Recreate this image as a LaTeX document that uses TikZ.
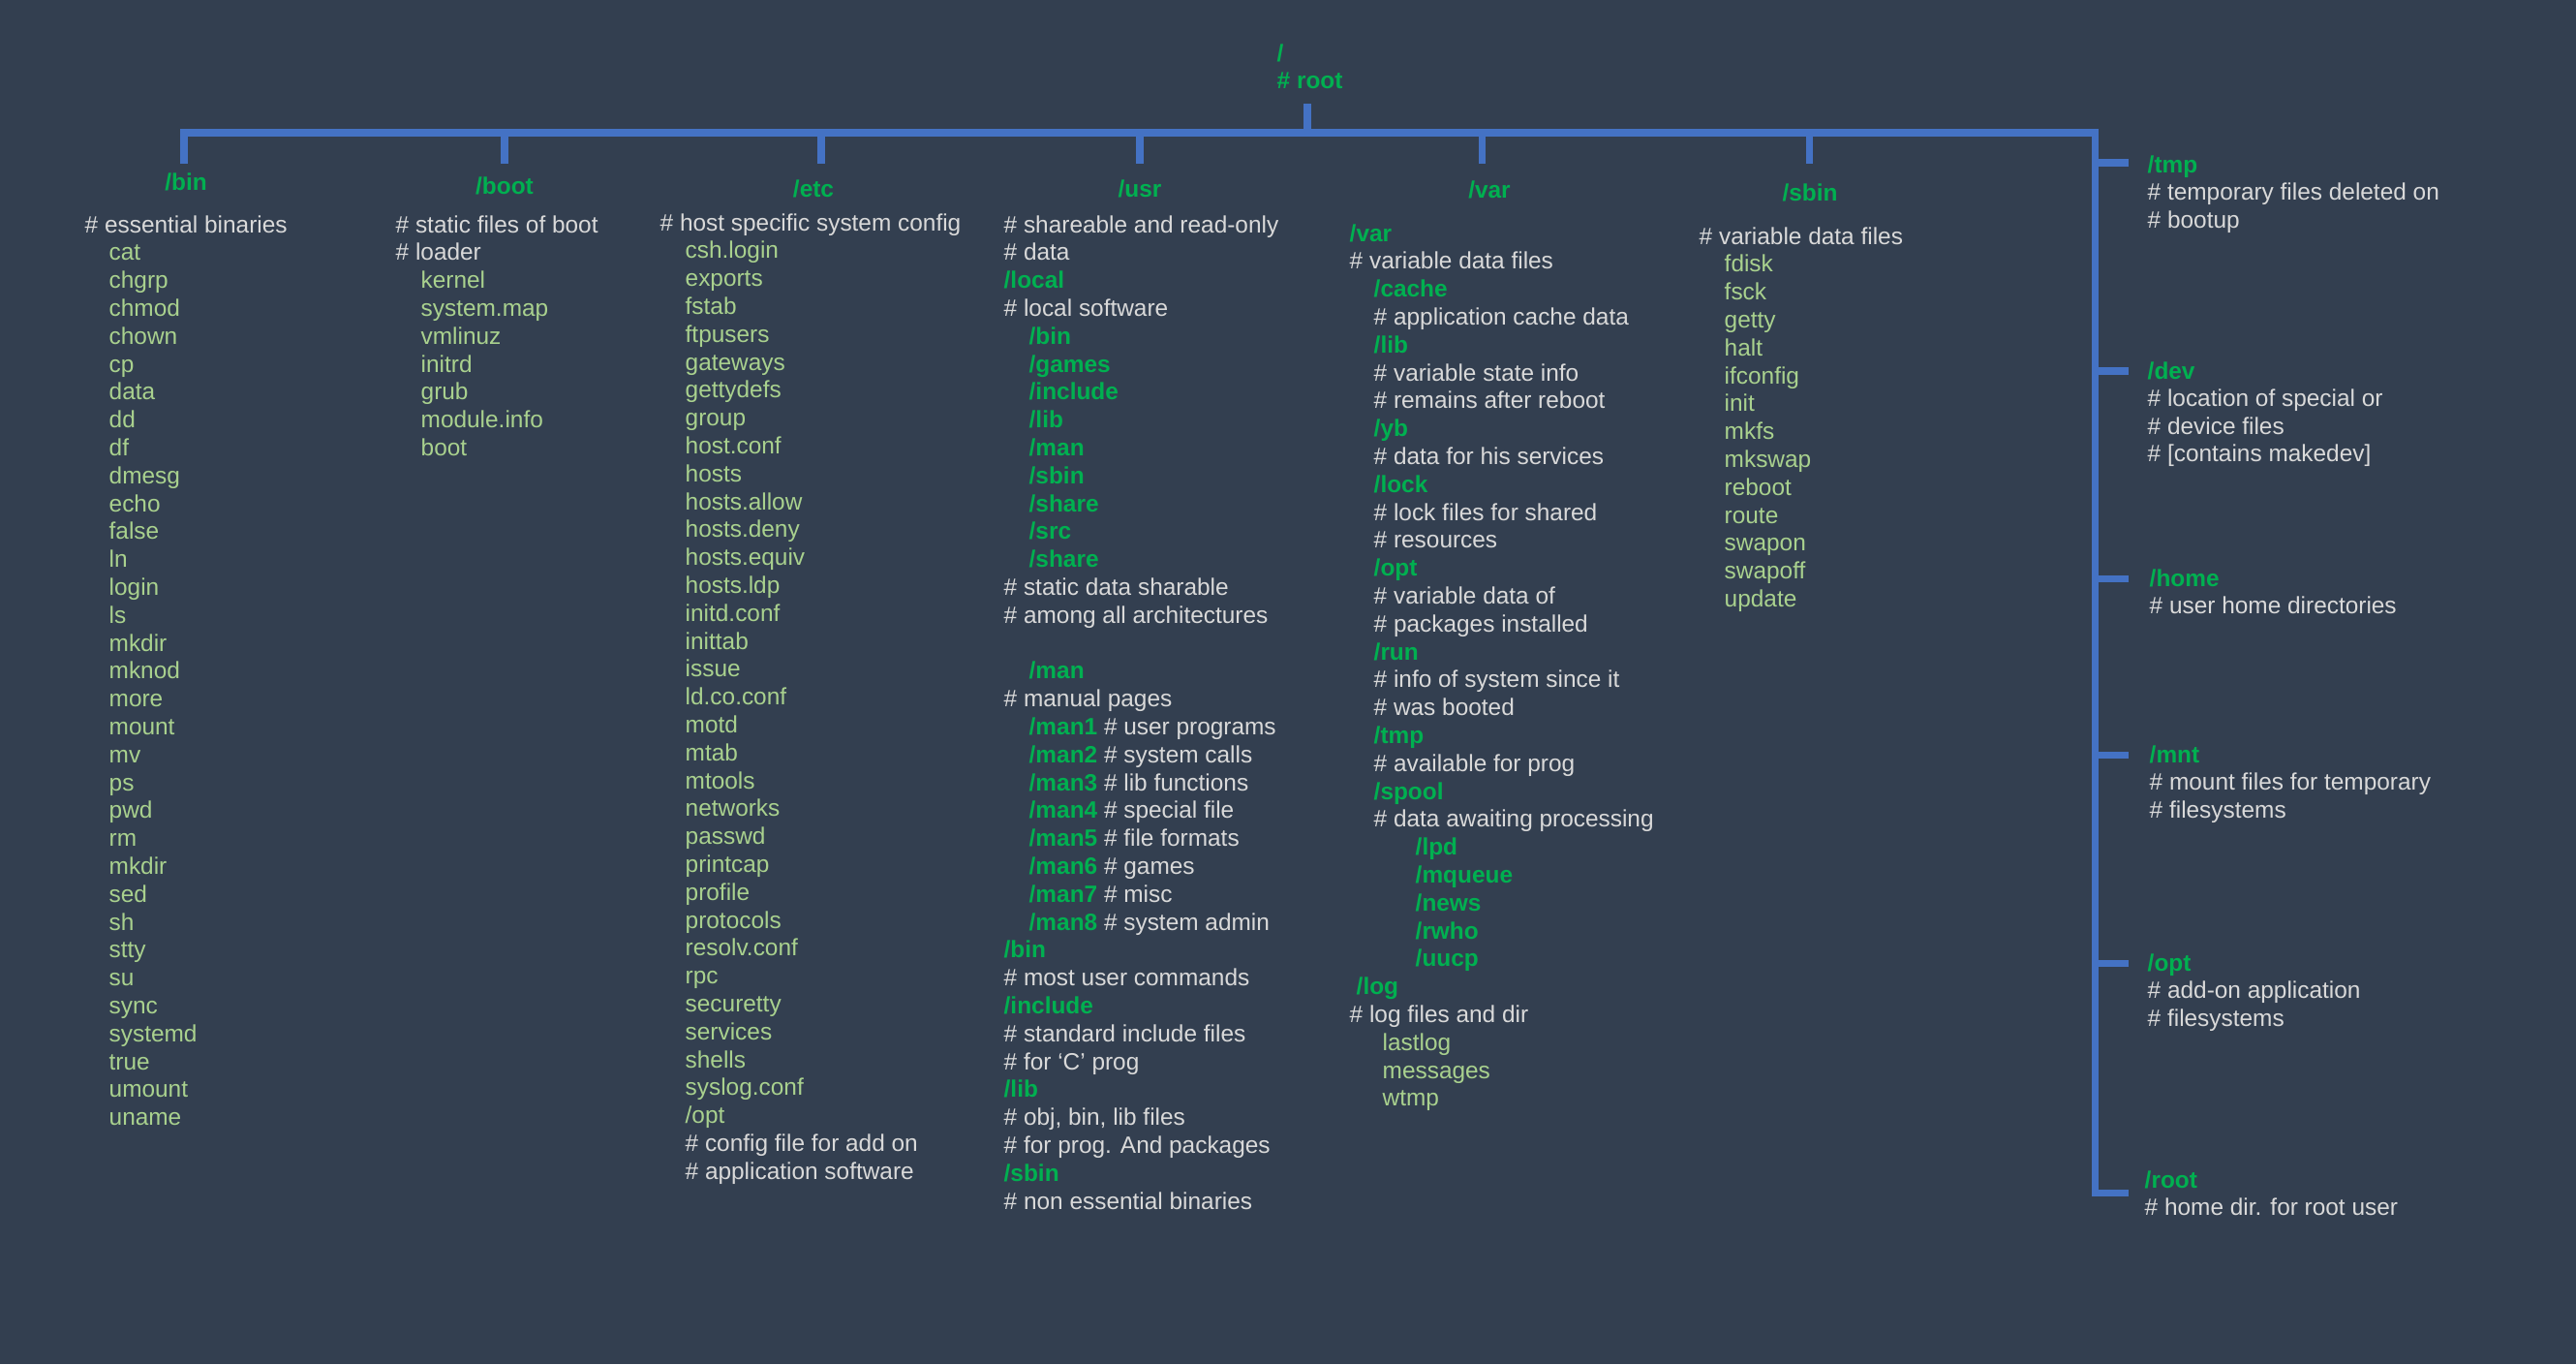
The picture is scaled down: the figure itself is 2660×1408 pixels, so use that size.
\documentclass[tikz,border=0pt]{standalone}
\usepackage{fontspec}
\setmainfont{Liberation Sans}
\usepackage{xcolor}
\usetikzlibrary{positioning}
\definecolor{bgblue}{HTML}{333F50}
\definecolor{treeblue}{HTML}{4472C4}
\definecolor{dirgreen}{HTML}{00B050}
\definecolor{filegreen}{HTML}{A9D18E}
\definecolor{cmtgray}{HTML}{D9D9D9}
\newcommand{\dn}[1]{\textcolor{dirgreen}{\bfseries #1}}
\newcommand{\cmt}[1]{\textcolor{cmtgray}{#1}}
\tikzset{
	txt/.style={anchor=base west, inner sep=0pt, text=filegreen, font=\fontsize{6.94}{8.2}\selectfont},
	head/.style={txt, anchor=base, text=dirgreen, font=\fontsize{6.94}{8.2}\selectfont\bfseries},
	bus/.style={draw=treeblue, line width=2pt, line join=miter},
}

\begin{document}
\begin{tikzpicture}[x=0.01cm, y=-0.01cm]
		\useasboundingbox (0,0) rectangle (2660,1408);
		\fill[bgblue] (0,0) rectangle (2660,1408);
		
		% root
		\node[txt] (root) at (1318,63) {\dn{/}};
		\node[txt] (root-c) at (1318,91) {\dn{\# root}};
		\coordinate (root-end) at (1350,107);
		\coordinate (bus-root) at (1350,137);
		\coordinate (bus-r) at (2163,137);
		
		% top branches
		\foreach \n/\x in {bin/190, boot/521, etc/848, usr/1177, var/1530, sbin/1868} {
			\coordinate (\n-top) at (\x,137);
			\coordinate (\n-end) at (\x,169);
		}
		% right branches
		\foreach \n/\y in {tmp/168, dev/383, home/597, mnt/779, opt/994, root/1231} {
			\coordinate (rbr-\n) at (2163,\y);
			\coordinate (rtip-\n) at (2198,\y);
		}
		
		\draw[bus] (bin-end) -- (bin-top) -- (bus-r) -- (rbr-root) -- (rtip-root);
		\draw[bus] (root-end) -- (bus-root);
		\foreach \n in {boot, etc, usr, var, sbin}
			\draw[bus] (\n-top) -- (\n-end);
		\foreach \n in {tmp, dev, home, mnt, opt}
			\draw[bus] (rbr-\n) -- (rtip-\n);
		
		\node[head] (h-bin) at (192,196) {/bin};
		\node[head] (h-boot) at (521,200) {/boot};
		\node[head] (h-etc) at (840,203) {/etc};
		\node[head] (h-usr) at (1177,203) {/usr};
		\node[head] (h-var) at (1538,204) {/var};
		\node[head] (h-sbin) at (1869,207) {/sbin};
		
		% /bin
		\foreach \dx/\t [count=\i from 0] in {0/{\cmt{\# essential binaries}}, 25/cat, 25/chgrp, 25/chmod, 25/chown, 25/cp, 25/data, 25/dd, 25/df, 25/dmesg, 25/echo, 25/false, 25/ln, 25/login, 25/ls, 25/mkdir, 25/mknod, 25/more, 25/mount, 25/mv, 25/ps, 25/pwd, 25/rm, 25/mkdir, 25/sed, 25/sh, 25/stty, 25/su, 25/sync, 25/systemd, 25/true, 25/umount, 25/uname}
			\node[txt] (bin-\i) at (87+\dx,240+\i*28.8) {\t};
		
		% /boot
		\foreach \dx/\t [count=\i from 0] in {0/{\cmt{\# static files of boot}}, 0/{\cmt{\# loader}}, 26/kernel, 26/system.map, 26/vmlinuz, 26/initrd, 26/grub, 26/module.info, 26/boot}
			\node[txt] (boot-\i) at (408+\dx,240+\i*28.8) {\t};
		
		% /etc
		\foreach \dx/\t [count=\i from 0] in {0/{\cmt{\# host specific system config}}, 26/csh.login, 26/exports, 26/fstab, 26/ftpusers, 26/gateways, 26/gettydefs, 26/group, 26/host.conf, 26/hosts, 26/hosts.allow, 26/hosts.deny, 26/hosts.equiv, 26/hosts.ldp, 26/initd.conf, 26/inittab, 26/issue, 26/ld.co.conf, 26/motd, 26/mtab, 26/mtools, 26/networks, 26/passwd, 26/printcap, 26/profile, 26/protocols, 26/resolv.conf, 26/rpc, 26/securetty, 26/services, 26/shells, 26/syslog.conf, 26/{/opt}, 26/{\cmt{\# config file for add on}}, 26/{\cmt{\# application software}}}
			\node[txt] (etc-\i) at (681+\dx,238+\i*28.8) {\t};
		
		% /usr
		\foreach \dx/\t [count=\i from 0] in {0/{\cmt{\# shareable and read-only}}, 0/{\cmt{\# data}}, 0/{\dn{/local}}, 0/{\cmt{\# local software}}, 26/{\dn{/bin}}, 26/{\dn{/games}}, 26/{\dn{/include}}, 26/{\dn{/lib}}, 26/{\dn{/man}}, 26/{\dn{/sbin}}, 26/{\dn{/share}}, 26/{\dn{/src}}, 26/{\dn{/share}}, 0/{\cmt{\# static data sharable}}, 0/{\cmt{\# among all architectures}}}
			\node[txt] (usr-\i) at (1036+\dx,240+\i*28.8) {\t};
		\foreach \dx/\t [count=\i from 16] in {26/{\dn{/man}}, 0/{\cmt{\# manual pages}}, 26/{\dn{/man1} \cmt{\# user programs}}, 26/{\dn{/man2} \cmt{\# system calls}}, 26/{\dn{/man3} \cmt{\# lib functions}}, 26/{\dn{/man4} \cmt{\# special file}}, 26/{\dn{/man5} \cmt{\# file formats}}, 26/{\dn{/man6} \cmt{\# games}}, 26/{\dn{/man7} \cmt{\# misc}}, 26/{\dn{/man8} \cmt{\# system admin}}, 0/{\dn{/bin}}, 0/{\cmt{\# most user commands}}, 0/{\dn{/include}}, 0/{\cmt{\# standard include files}}, 0/{\cmt{\# for ‘C’ prog}}, 0/{\dn{/lib}}, 0/{\cmt{\# obj, bin, lib files}}, 0/{\cmt{\# for prog. And packages}}, 0/{\dn{/sbin}}, 0/{\cmt{\# non essential binaries}}}
			\node[txt] (usr-\i) at (1036+\dx,240+\i*28.8) {\t};
		
		% /var
		\foreach \dx/\t [count=\i from 0] in {0/{\dn{/var}}, 0/{\cmt{\# variable data files}}, 25/{\dn{/cache}}, 25/{\cmt{\# application cache data}}, 25/{\dn{/lib}}, 25/{\cmt{\# variable state info}}, 25/{\cmt{\# remains after reboot}}, 25/{\dn{/yb}}, 25/{\cmt{\# data for his services}}, 25/{\dn{/lock}}, 25/{\cmt{\# lock files for shared}}, 25/{\cmt{\# resources}}, 25/{\dn{/opt}}, 25/{\cmt{\# variable data of}}, 25/{\cmt{\# packages installed}}, 25/{\dn{/run}}, 25/{\cmt{\# info of system since it}}, 25/{\cmt{\# was booted}}, 25/{\dn{/tmp}}, 25/{\cmt{\# available for prog}}, 25/{\dn{/spool}}, 25/{\cmt{\# data awaiting processing}}, 68/{\dn{/lpd}}, 68/{\dn{/mqueue}}, 68/{\dn{/news}}, 68/{\dn{/rwho}}, 68/{\dn{/uucp}}, 7/{\dn{/log}}, 0/{\cmt{\# log files and dir}}, 34/lastlog, 34/messages, 34/wtmp}
			\node[txt] (var-\i) at (1393+\dx,249+\i*28.8) {\t};
		
		% /sbin
		\foreach \dx/\t [count=\i from 0] in {0/{\cmt{\# variable data files}}, 26/fdisk, 26/fsck, 26/getty, 26/halt, 26/ifconfig, 26/init, 26/mkfs, 26/mkswap, 26/reboot, 26/route, 26/swapon, 26/swapoff, 26/update}
			\node[txt] (sbin-\i) at (1754+\dx,252+\i*28.8) {\t};
		
		% right side
		\foreach \t [count=\i from 0] in {{\dn{/tmp}}, {\cmt{\# temporary files deleted on}}, {\cmt{\# bootup}}}
			\node[txt] (tmp-\i) at (2217,178+\i*28.5) {\t};
		\foreach \t [count=\i from 0] in {{\dn{/dev}}, {\cmt{\# location of special or}}, {\cmt{\# device files}}, {\cmt{\# [contains makedev]}}}
			\node[txt] (dev-\i) at (2217,391+\i*28.5) {\t};
		\foreach \t [count=\i from 0] in {{\dn{/home}}, {\cmt{\# user home directories}}}
			\node[txt] (home-\i) at (2219,605+\i*28.5) {\t};
		\foreach \t [count=\i from 0] in {{\dn{/mnt}}, {\cmt{\# mount files for temporary}}, {\cmt{\# filesystems}}}
			\node[txt] (mnt-\i) at (2219,787+\i*28.5) {\t};
		\foreach \t [count=\i from 0] in {{\dn{/opt}}, {\cmt{\# add-on application}}, {\cmt{\# filesystems}}}
			\node[txt] (opt-\i) at (2217,1002+\i*28.5) {\t};
		\foreach \t [count=\i from 0] in {{\dn{/root}}, {\cmt{\# home dir. for root user}}}
			\node[txt] (root-\i) at (2214,1226+\i*28.5) {\t};
	\end{tikzpicture}
\end{document}
